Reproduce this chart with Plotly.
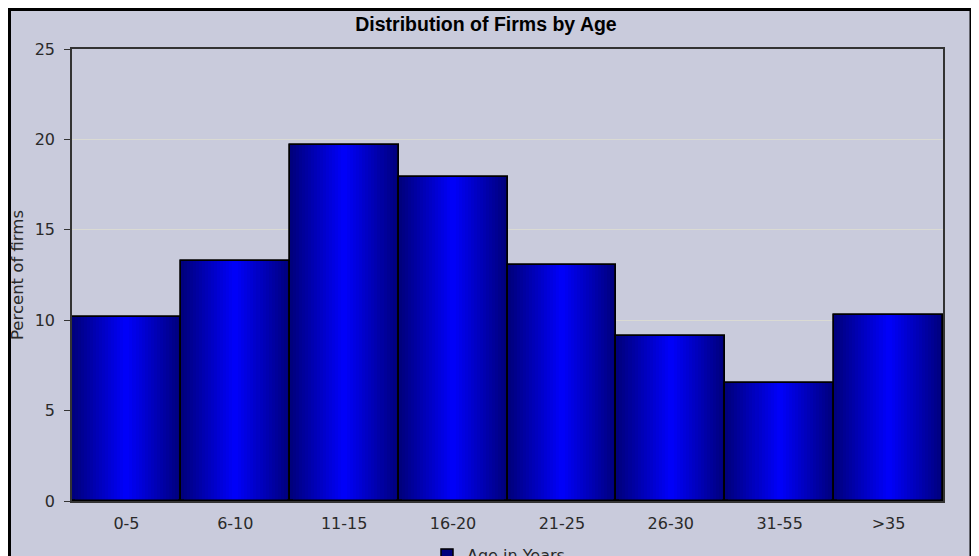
import plotly.graph_objects as go

# ---- data ----
categories = ["0-5", "6-10", "11-15", "16-20", "21-25", "26-30", "31-55", ">35"]
percent_of_firms = [10.15, 13.3, 19.7, 17.9, 13.05, 9.1, 6.5, 10.3]
series_name = "Age in Years"
y_ticks = [0, 5, 10, 15, 20, 25]

# figure sits 8px in from the page corner (body margin)
W, H = 971, 548
ml, mt = 64, 41
mr = W - 935
mb = H - 493
pw, ph = W - ml - mr, H - mt - mb

def px_to_paper_x(px):
    return (px - ml) / pw

def px_to_paper_y(py):
    return (H - mb - py) / ph

fig = go.Figure()

# gradient simulation: nested bars, darker outside, brighter toward centre
N = 18
dark, bright = 125, 255
for k in range(N):
    w = 1.0 - k / N
    b = int(round(bright - (bright - dark) * w))
    fig.add_trace(go.Bar(
        x=categories, y=percent_of_firms, width=w,
        marker=dict(color=f"rgb(0,0,{b})",
                    line=dict(color="black", width=1.5 if k == 0 else 0)),
        name=series_name, showlegend=(k == 0), hoverinfo="skip",
    ))

# outline on top
fig.add_trace(go.Bar(
    x=categories, y=percent_of_firms, width=1.0,
    marker=dict(color="rgba(0,0,0,0)", line=dict(color="black", width=1.5)),
    showlegend=False, hoverinfo="skip",
))

frame = dict(
    type="rect", xref="paper", yref="paper", layer="below",
    x0=px_to_paper_x(1.5), x1=px_to_paper_x(963),
    y0=px_to_paper_y(600), y1=px_to_paper_y(1.5),
    fillcolor="#C9CBDC", line=dict(color="black", width=3),
)

tick_font = dict(family="DejaVu Sans, sans-serif", size=16, color="#2a2a2a")

fig.update_layout(
    width=W, height=H,
    margin=dict(l=ml, r=mr, t=mt, b=mb, autoexpand=False),
    paper_bgcolor="white",
    plot_bgcolor="rgba(0,0,0,0)",
    barmode="overlay", bargap=0,
    shapes=[frame],
    font=tick_font,
    title=dict(text="<b>Distribution of Firms by Age</b>", x=478 / W, xref="container",
               xanchor="center", y=1 - 16 / H, yref="container", yanchor="middle",
               font=dict(family="Liberation Sans, Arial, sans-serif",
                         size=19.5, color="black"),
               automargin=False),
    showlegend=True,
    legend=dict(orientation="h", x=419 / W, xref="container", xanchor="left",
                y=1 - 530 / H, yref="container", yanchor="top",
                bgcolor="rgba(0,0,0,0)", font=tick_font),
    xaxis=dict(
        type="category", range=[-0.5, len(categories) - 0.5],
        showline=True, linecolor="#333", linewidth=1.5, mirror=True,
        ticks="outside", ticklen=7, tickcolor="rgba(0,0,0,0)",
        tickfont=tick_font, automargin=False,
        showgrid=False, zeroline=False, fixedrange=True,
    ),
    yaxis=dict(
        range=[0, 25], tickvals=y_ticks, showline=True, linecolor="#333",
        linewidth=1.5, mirror=True, ticks="outside", ticklen=6, tickcolor="#333",
        ticklabelstandoff=6, showgrid=True, gridcolor="#DADAD3", gridwidth=1,
        tickfont=tick_font, zeroline=False, fixedrange=True, automargin=False,
        title=dict(text="Percent of firms",
                   font=dict(family="DejaVu Sans, sans-serif", size=16.5, color="#2a2a2a"),
                   standoff=7),
    ),
)

fig.write_html("out.html")
